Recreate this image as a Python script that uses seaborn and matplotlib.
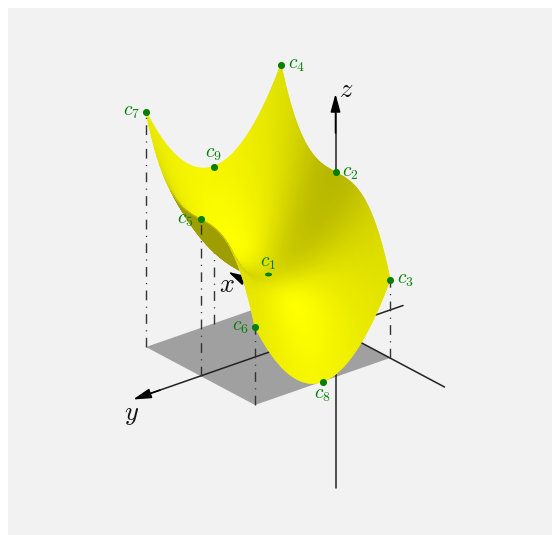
import numpy as np
import matplotlib
matplotlib.use('Agg')
import matplotlib.pyplot as plt
import matplotlib.tri as mtri
from matplotlib.collections import LineCollection
from matplotlib.colors import LinearSegmentedColormap
from matplotlib.markers import MarkerStyle
from matplotlib.patches import Rectangle
from matplotlib.transforms import Affine2D
import seaborn as sns

# The nine nodes (x, y, z in axis units)
node_names = ['c_1', 'c_2', 'c_3', 'c_4', 'c_5', 'c_6', 'c_7', 'c_8', 'c_9']
node_x = [0, 0, -1, 1, 0, -1, 1, -1, 1]
node_y = [1, 0, 0, 0, 2, 2, 2, 1, 1]
node_z = [1, 2, 1, 3, 2, 1, 3, 0, 2]

# Height profiles along the surface edges, sampled every 0.05 of an axis unit
grid_x = [-1.0, -0.95, -0.9, -0.85, -0.8, -0.75, -0.7, -0.65, -0.6, -0.55, -0.5,
          -0.45, -0.4, -0.35, -0.3, -0.25, -0.2, -0.15, -0.1, -0.05, 0.0,
          0.05, 0.1, 0.15, 0.2, 0.25, 0.3, 0.35, 0.4, 0.45, 0.5,
          0.55, 0.6, 0.65, 0.7, 0.75, 0.8, 0.85, 0.9, 0.95, 1.0]
grid_y = [0.0, 0.05, 0.1, 0.15, 0.2, 0.25, 0.3, 0.35, 0.4, 0.45, 0.5,
          0.55, 0.6, 0.65, 0.7, 0.75, 0.8, 0.85, 0.9, 0.95, 1.0,
          1.05, 1.1, 1.15, 1.2, 1.25, 1.3, 1.35, 1.4, 1.45, 1.5,
          1.55, 1.6, 1.65, 1.7, 1.75, 1.8, 1.85, 1.9, 1.95, 2.0]
rise_x = [0.0, 0.143, 0.271, 0.386, 0.488, 0.578, 0.657, 0.725, 0.784, 0.834, 0.875,
          0.909, 0.936, 0.957, 0.973, 0.984, 0.992, 0.997, 0.999, 1.0, 1.0,
          1.0, 1.001, 1.003, 1.008, 1.016, 1.027, 1.043, 1.064, 1.091, 1.125,
          1.166, 1.216, 1.275, 1.343, 1.422, 1.512, 1.614, 1.729, 1.857, 2.0]
rise_y = [1.0, 0.903, 0.81, 0.723, 0.64, 0.563, 0.49, 0.423, 0.36, 0.303, 0.25,
          0.203, 0.16, 0.123, 0.09, 0.063, 0.04, 0.023, 0.01, 0.003, 0.0,
          0.003, 0.01, 0.023, 0.04, 0.063, 0.09, 0.123, 0.16, 0.203, 0.25,
          0.303, 0.36, 0.423, 0.49, 0.563, 0.64, 0.723, 0.81, 0.903, 1.0]

GREEN = '#008000'


def project(x, y, z):
    # oblique view onto the page, pixels with y pointing down
    x, y, z = np.asarray(x, float), np.asarray(y, float), np.asarray(z, float)
    return 335.5 - 54.5 * x - 67.5 * y, 329 - 29 * x + 23.5 * y - 78.4 * z


sns.set_theme(style='white')
plt.rcParams['mathtext.fontset'] = 'cm'

fig = plt.figure(figsize=(5.52, 5.35), dpi=100, facecolor='white')
ax = fig.add_axes([0, 0, 1, 1])
ax.set_xlim(0, 552)
ax.set_ylim(535, 0)
ax.axis('off')
ax.add_patch(Rectangle((8, 8), 544, 527, color='#f2f2f2', lw=0, zorder=0))

# floor
fx, fy = project([-1, 1, 1, -1], [0, 0, 2, 2], [0, 0, 0, 0])
ax.fill(fx, fy, color='#a0a0a0', lw=0, zorder=1)

# axes
for start, end in [((-2, 0, 0), (1.72, 0, 0)), ((0, -1, 0), (0, 2.8, 0)), ((0, 0, -2.03), (0, 0, 2.75))]:
    lx, ly = project(*zip(start, end))
    sns.lineplot(x=lx, y=ly, sort=False, estimator=None, color='#222222', lw=1.1, ax=ax, zorder=2)
for start, end in [((1.6, 0, 0), (1.97, 0, 0)), ((0, 2.6, 0), (0, 3, 0)), ((0, 0, 2.5), (0, 0, 3))]:
    ax.annotate('', xy=project(*end), xytext=project(*start), zorder=2,
                arrowprops=dict(arrowstyle='-|>,head_length=1.1,head_width=0.3', color='black', lw=1.1,
                                mutation_scale=10, shrinkA=0, shrinkB=0))

# dropline behind the surface, dashes counted from the floor up
dash = (0, (7, 4.6, 0.8, 4.6))
for i, name in enumerate(node_names):
    if name == 'c_9':
        dx, dy = project([node_x[i]] * 2, [node_y[i]] * 2, [0, node_z[i]])
        ax.plot(dx, dy, color='#333333', lw=1, ls=dash, zorder=2)

# surface
gx, gy = np.meshgrid(grid_x, grid_y, indexing='ij')
gz = np.add.outer(rise_x, rise_y)
dz_x = np.gradient(gz, grid_x, axis=0)
dz_y = np.gradient(gz, grid_y, axis=1)
normal = np.stack([-dz_x, -dz_y, np.ones_like(gz)], axis=-1)
normal = normal / np.linalg.norm(normal, axis=-1, keepdims=True)
light = np.array([-1.1, -0.1, 1.0])
light = light / np.linalg.norm(light)
bright = 0.68 + 0.32 * np.clip(normal @ light, 0, 1) ** 1.5
viewer = np.array([-1.2385, 1.0, 0.7618])
depth = gx * viewer[0] + gy * viewer[1] + gz * viewer[2]
sx, sy = project(gx, gy, gz)

n = len(grid_x)
px, py, pc, tris, order = [], [], [], [], []
for i in range(n - 1):
    for j in range(n - 1):
        for cell in [[(i, j), (i + 1, j), (i + 1, j + 1)], [(i, j), (i + 1, j + 1), (i, j + 1)]]:
            idx = tuple(np.array(cell).T)
            mean_n = normal[idx].mean(axis=0)
            front = mean_n @ viewer > 0
            base = len(px)
            px.extend(sx[idx])
            py.extend(sy[idx])
            pc.extend(bright[idx] if front else [0.62] * 3)
            tris.append([base, base + 1, base + 2])
            order.append(depth[idx].mean())
tris = np.array(tris)[np.argsort(order)]
tri = mtri.Triangulation(px, py, tris)
yellow = LinearSegmentedColormap.from_list('shade', ['black', '#ffff00'])
ax.tripcolor(tri, pc, shading='gouraud', cmap=yellow, vmin=0, vmax=1, zorder=3)

# gouraud triangles have hard edges, so run a thin line round the patch
for ex, ey, eb in [(sx[:, 0], sy[:, 0], bright[:, 0]), (sx[:, -1], sy[:, -1], bright[:, -1]),
                   (sx[0], sy[0], bright[0]), (sx[-1], sy[-1], bright[-1])]:
    pts = np.column_stack([ex, ey])
    segs = np.stack([pts[:-1], pts[1:]], axis=1)
    edge = LineCollection(segs, cmap=yellow, norm=plt.Normalize(0, 1), lw=0.7, zorder=3.5)
    edge.set_array(eb[:-1])
    ax.add_collection(edge)

# droplines in front
for i, name in enumerate(node_names):
    if name in ['c_3', 'c_5', 'c_6', 'c_7']:
        dx, dy = project([node_x[i]] * 2, [node_y[i]] * 2, [0, node_z[i]])
        ax.plot(dx, dy, color='#333333', lw=1, ls=dash, zorder=4)

# nodes
nx, ny = project(node_x, node_y, node_z)
show = [name != 'c_1' for name in node_names]
sns.scatterplot(x=nx[show], y=ny[show], color=GREEN, s=26, linewidth=0, ax=ax, zorder=5)
ax.scatter(nx[0], ny[0], s=26, c=GREEN, linewidths=0, zorder=5,
           marker=MarkerStyle('o', transform=Affine2D().scale(1, 0.55)))

label_offset = {'c_1': (0, -12), 'c_2': (15, 0), 'c_3': (15, 0), 'c_4': (15, 0), 'c_5': (-15, 0),
                'c_6': (-15, 0), 'c_7': (-15, 0), 'c_8': (0, 13), 'c_9': (0, -13)}
for i, name in enumerate(node_names):
    off = label_offset[name]
    ax.text(nx[i] + off[0], ny[i] + off[1], '$' + name + '$', color=GREEN, fontsize=14,
            ha='center', va='center', zorder=6)

for name, pos in {'x': (227, 285), 'y': (132, 414), 'z': (346, 90)}.items():
    ax.text(pos[0], pos[1], '$' + name + '$', color='#111111', fontsize=19, ha='center', va='center', zorder=6)

fig.savefig('out.png', dpi=100)
